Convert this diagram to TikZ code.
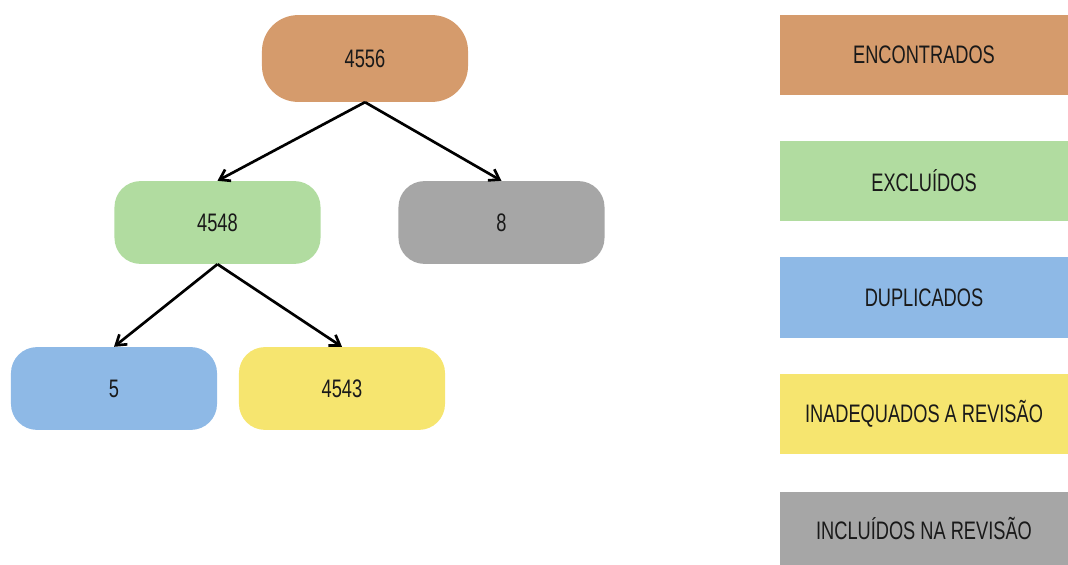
\documentclass[tikz,border=0pt]{standalone}
\usepackage{fontspec}
\setmainfont{Liberation Sans}[FakeStretch=0.72]
\usetikzlibrary{arrows.meta}

\definecolor{encontrados}{HTML}{D59B6C}
\definecolor{excluidos}{HTML}{B1DCA0}
\definecolor{duplicados}{HTML}{8EB9E6}
\definecolor{inadequados}{HTML}{F6E56F}
\definecolor{incluidos}{HTML}{A6A6A6}

\begin{document}
\begin{tikzpicture}[x=0.025cm, y=-0.025cm,
  caixa/.style={rounded corners=0.65cm, minimum width=5.15cm, minimum height=2.07cm,
    inner sep=0pt, text=black!90, font=\fontsize{18}{20}\selectfont},
  legenda/.style={minimum width=7.2cm, minimum height=2cm,
    inner sep=0pt, text=black!90, font=\fontsize{18}{20}\selectfont},
  seta/.style={-{Straight Barb[length=2.4mm,width=3.2mm]}, line width=1.9pt}]
  \useasboundingbox (0,0) rectangle (1068,565);

  % arvore
  \node[caixa, fill=encontrados, rounded corners=0.9cm, minimum height=2.17cm] (total) at (365,58.5) {4556};
  \node[caixa, fill=excluidos] (excl) at (217.5,222.5) {4548};
  \node[caixa, fill=incluidos] (incl) at (501.5,222.5) {8};
  \node[caixa, fill=duplicados] (dupl) at (114,388.5) {5};
  \node[caixa, fill=inadequados] (inad) at (342,388.5) {4543};

  \draw[seta] (total.south) -- (excl.north);
  \draw[seta] (total.south) -- (incl.north);
  \draw[seta] (excl.south) -- (dupl.north);
  \draw[seta] (excl.south) -- (inad.north);

  % legenda
  \node[legenda, fill=encontrados] (legEnc) at (924,55) {ENCONTRADOS};
  \node[legenda, fill=excluidos] (legExc) at (924,181) {EXCLUÍDOS};
  \node[legenda, fill=duplicados] (legDup) at (924,297.5) {DUPLICADOS};
  \node[legenda, fill=inadequados] (legIna) at (924,414) {INADEQUADOS A REVISÃO};
  \node[legenda, fill=incluidos, minimum height=1.83cm] (legInc) at (924,528.5) {INCLUÍDOS NA REVISÃO};
\end{tikzpicture}
\end{document}
